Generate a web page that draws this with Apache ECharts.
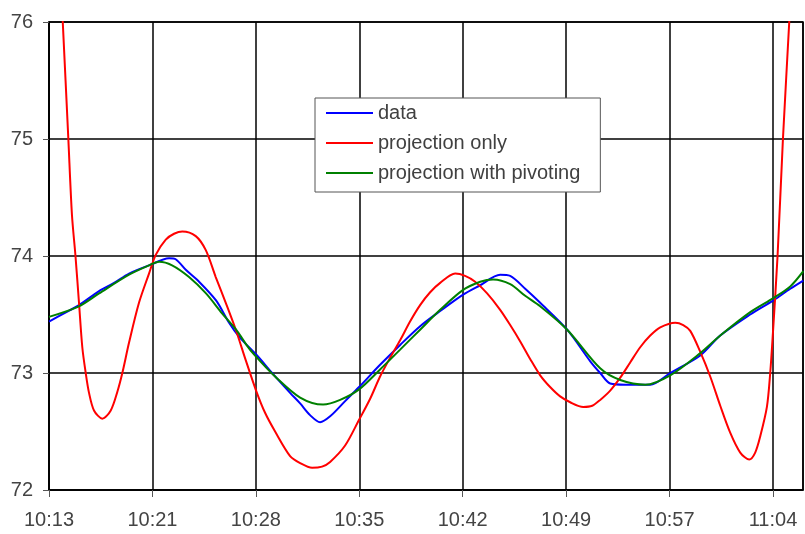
<!DOCTYPE html>
<html><head><meta charset="utf-8">
<script src="https://cdn.jsdelivr.net/npm/echarts@6/dist/echarts.min.js"></script>
<style>html,body{margin:0;padding:0;background:#fff}#c{width:805px;height:534px}</style>
</head><body><div id="c"></div>
<script>
// X positions are in tick units: 0 = 10:13, 1 = 10:21, ... 7 = 11:04
const xTickLabels = ['10:13','10:21','10:28','10:35','10:42','10:49','10:57','11:04'];
const xMax = 7.29;
const yMin = 72, yMax = 76, yStep = 1;

const dataX = [0.000,0.145,0.290,0.484,0.629,0.774,0.967,1.161,1.228,1.325,1.451,1.615,1.741,1.838,1.934,2.012,2.167,2.331,2.428,2.524,2.621,2.718,2.863,2.998,3.201,3.395,3.588,3.782,4.004,4.169,4.362,4.459,4.604,4.749,5.010,5.233,5.329,5.426,5.571,5.716,5.813,6.006,6.297,6.490,6.780,7.003,7.167,7.293];
const dataY = [73.44,73.51,73.58,73.70,73.77,73.85,73.92,73.98,73.97,73.88,73.78,73.62,73.43,73.31,73.22,73.15,72.99,72.83,72.74,72.64,72.58,72.63,72.76,72.88,73.07,73.24,73.40,73.53,73.67,73.75,73.84,73.83,73.72,73.60,73.37,73.10,73.00,72.91,72.90,72.90,72.90,73.00,73.15,73.32,73.50,73.62,73.72,73.79];

const projX = [0.000,0.058,0.133,0.187,0.222,0.256,0.290,0.322,0.355,0.387,0.435,0.516,0.597,0.661,0.709,0.774,0.870,0.967,1.032,1.129,1.209,1.289,1.419,1.516,1.612,1.709,1.806,1.902,2.002,2.089,2.186,2.331,2.428,2.544,2.640,2.718,2.863,2.998,3.105,3.201,3.298,3.395,3.491,3.588,3.685,3.782,3.927,4.023,4.120,4.236,4.362,4.459,4.556,4.652,4.749,4.845,4.942,5.039,5.165,5.252,5.329,5.426,5.523,5.619,5.716,5.813,5.910,6.055,6.132,6.200,6.297,6.393,6.490,6.586,6.683,6.770,6.828,6.877,6.941,6.973,6.999,7.044,7.096,7.157,7.215];
const projY = [78.40,77.35,76.00,75.00,74.35,74.00,73.60,73.22,73.00,72.83,72.68,72.61,72.68,72.84,73.00,73.26,73.60,73.85,74.01,74.14,74.19,74.21,74.17,74.05,73.82,73.60,73.37,73.11,72.85,72.66,72.50,72.29,72.23,72.19,72.20,72.24,72.38,72.60,72.78,72.97,73.13,73.28,73.44,73.58,73.69,73.77,73.85,73.83,73.78,73.68,73.54,73.41,73.27,73.12,72.98,72.88,72.80,72.75,72.71,72.72,72.77,72.85,72.96,73.09,73.22,73.32,73.39,73.43,73.41,73.36,73.18,72.97,72.72,72.49,72.32,72.26,72.32,72.46,72.71,73.00,73.34,74.00,75.00,76.00,77.00];

const pivX = [0.000,0.290,0.484,0.774,0.967,1.064,1.190,1.354,1.518,1.673,1.809,1.934,2.012,2.186,2.428,2.650,2.815,2.998,3.201,3.395,3.588,3.782,4.004,4.169,4.294,4.459,4.604,4.749,5.010,5.329,5.523,5.765,6.006,6.297,6.490,6.780,7.003,7.167,7.293];
const pivY = [73.48,73.57,73.68,73.84,73.92,73.95,73.92,73.82,73.68,73.51,73.37,73.21,73.13,72.97,72.79,72.73,72.77,72.86,73.03,73.20,73.37,73.54,73.71,73.78,73.80,73.76,73.66,73.57,73.37,73.04,72.94,72.90,72.98,73.17,73.32,73.52,73.64,73.74,73.87];

const zip = (xs, ys) => xs.map((x, i) => [x, ys[i]]);
const font = "'Liberation Sans', Arial, sans-serif";

const chart = echarts.init(document.getElementById('c'), null, {renderer: 'canvas'});
const lineSeries = (name, xs, ys, color) => ({
  name, type: 'line', data: zip(xs, ys), showSymbol: false, symbol: 'none',
  smooth: 0.3, clip: true,
  lineStyle: {color, width: 2}, itemStyle: {color}
});
chart.setOption({
  animation: false,
  backgroundColor: '#fff',
  grid: {left: 49, right: 2, top: 22, bottom: 44, show: true, borderColor: '#000', borderWidth: 1.5, backgroundColor: 'transparent'},
  xAxis: {
    type: 'value', min: 0, max: xMax, interval: 1,
    axisLine: {show: true, lineStyle: {color: '#000', width: 1.5}},
    axisTick: {show: true, length: 7, lineStyle: {color: '#555', width: 1}},
    splitLine: {show: true, lineStyle: {color: '#000', width: 1.5}},
    axisLabel: {
      margin: 20, fontSize: 20, color: '#444', fontFamily: font, showMaxLabel: false,
      formatter: v => (Math.abs(v - Math.round(v)) < 1e-6 && xTickLabels[Math.round(v)]) || ''
    }
  },
  yAxis: {
    type: 'value', min: yMin, max: yMax, interval: yStep,
    axisLine: {show: true, lineStyle: {color: '#000', width: 1.5}},
    axisTick: {show: true, length: 6, lineStyle: {color: '#555', width: 1}},
    splitLine: {show: true, lineStyle: {color: '#000', width: 1.5}},
    axisLabel: {margin: 16, fontSize: 20, color: '#444', fontFamily: font}
  },
  legend: {
    orient: 'vertical', left: 315, top: 98,
    padding: [5, 20, 9, 11], itemGap: 10,
    backgroundColor: '#fff', borderColor: '#555', borderWidth: 1,
    icon: 'rect', itemWidth: 47, itemHeight: 2,
    textStyle: {fontSize: 20, lineHeight: 20, color: '#404040', fontFamily: font, padding: [0, 0, 0, 0]},
    data: ['data', 'projection only', 'projection with pivoting']
  },
  series: [
    lineSeries('data', dataX, dataY, '#0000ff'),
    lineSeries('projection only', projX, projY, '#ff0000'),
    lineSeries('projection with pivoting', pivX, pivY, '#008000')
  ]
});
</script></body></html>
